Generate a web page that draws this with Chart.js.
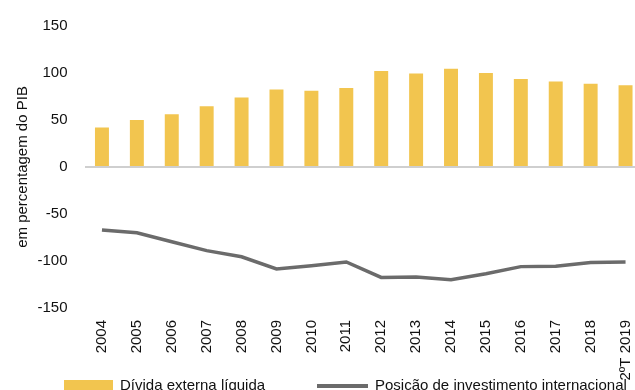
<!DOCTYPE html>
<html>
<head>
<meta charset="utf-8">
<script src="https://cdn.jsdelivr.net/npm/chart.js@4/dist/chart.umd.min.js"></script>
<style>
  html, body { margin: 0; padding: 0; background: #fff; overflow: hidden; }
  #wrap { position: absolute; left: 0; top: 0; width: 645px; height: 390px; }
</style>
</head>
<body>
<div id="wrap"><canvas id="chart"></canvas></div>
<script>
'use strict';
var anos = ['2004', '2005', '2006', '2007', '2008', '2009', '2010', '2011', '2012', '2013', '2014', '2015', '2016', '2017', '2018', '2ºT 2019'];
var dividaExterna = [42, 50, 56, 64.5, 74, 82.5, 81, 84, 102, 99.5, 104.5, 100, 93.5, 91, 88.5, 87];
var posicaoInvestimento = [-67, -70, -79.5, -89, -95.5, -108.5, -105, -101, -117.5, -117, -120, -113.5, -106, -105.5, -101.5, -101];
var yTicks = [-150, -100, -50, 0, 50, 100, 150];

var FONT = "'Liberation Sans', Arial, sans-serif";
var AMARELO = '#f2c54f';
var CINZA = '#6b6b6b';

// legend drawn by hand under the axis labels
var legendaPlugin = {
	id: 'legenda',
	afterDraw: function (chart) {
		var ctx = chart.ctx;
		var barras = chart.data.datasets[1];
		var linha = chart.data.datasets[0];
		var y = 386;
		ctx.save();
		ctx.font = '15px ' + FONT;
		ctx.textBaseline = 'middle';
		ctx.fillStyle = barras.backgroundColor;
		ctx.fillRect(64, y - 6, 49, 12);
		ctx.fillStyle = '#111';
		ctx.fillText(barras.label, 120, y);
		ctx.strokeStyle = linha.borderColor;
		ctx.lineWidth = 4;
		ctx.beginPath();
		ctx.moveTo(317, y);
		ctx.lineTo(368, y);
		ctx.stroke();
		ctx.fillText(linha.label, 375, y);
		ctx.restore();
	}
};

var ctx = document.getElementById('chart');
var myChart = new Chart(ctx, {
	type: 'bar',
	data: {
		labels: anos,
		datasets: [{
			type: 'line',
			label: 'Posição de investimento internacional',
			data: posicaoInvestimento,
			borderColor: CINZA,
			backgroundColor: CINZA,
			borderWidth: 3.5,
			pointRadius: 0,
			tension: 0,
			order: 0
		}, {
			type: 'bar',
			label: 'Dívida externa líquida',
			data: dividaExterna,
			backgroundColor: AMARELO,
			barPercentage: 0.4,
			categoryPercentage: 1,
			order: 1
		}]
	},
	options: {
		responsive: true,
		maintainAspectRatio: false,
		animation: false,
		layout: {
			padding: { top: 25.5, right: 2, bottom: 5.5, left: 14 }
		},
		plugins: {
			legend: { display: false },
			tooltip: { enabled: false }
		},
		scales: {
			x: {
				grid: { display: false },
				border: { display: false },
				// vertical labels don't need side room
				afterFit: function (scale) {
					scale.paddingLeft = 0;
					scale.paddingRight = 0;
				},
				ticks: {
					color: '#111',
					font: { family: FONT, size: 15 },
					minRotation: 90,
					maxRotation: 90,
					autoSkip: false,
					padding: 4
				}
			},
			y: {
				min: -150,
				max: 150,
				afterBuildTicks: function (axis) {
					axis.ticks = yTicks.map(function (v) { return { value: v }; });
				},
				// fixed axis width so the plot starts at x=84.5
				afterFit: function (scale) {
					scale.width = 70.5;
				},
				border: { display: false },
				grid: {
					drawTicks: false,
					lineWidth: 2,
					color: function (c) {
						return c.tick && c.tick.value === 0 ? '#cfcfcf' : 'rgba(0,0,0,0)';
					}
				},
				ticks: {
					color: '#111',
					font: { family: FONT, size: 15 },
					padding: 17
				},
				title: {
					display: true,
					text: 'em percentagem do PIB',
					color: '#111',
					font: { family: FONT, size: 15 },
					padding: { top: 0, bottom: 4 }
				}
			}
		}
	},
	plugins: [legendaPlugin]
});
</script>
</body>
</html>
